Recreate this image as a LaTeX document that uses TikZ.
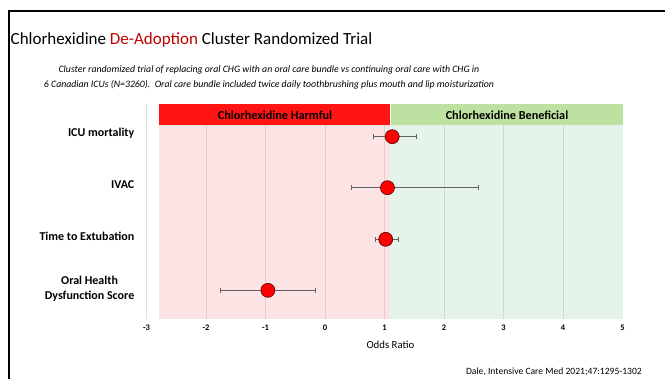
\documentclass[tikz,border=0pt]{standalone}
\usepackage{fontspec}
\setmainfont{Carlito}
\begin{document}
\definecolor{hdrred}{HTML}{FF1414}
\definecolor{hdrgreen}{HTML}{BDE1A0}
\definecolor{bgpink}{HTML}{FDE4E4}
\definecolor{bggreen}{HTML}{E4F4EA}
\definecolor{titlered}{HTML}{C00000}
\definecolor{barcol}{HTML}{626262}
\begin{tikzpicture}[x=1pt,y=-1pt,
  rowlabel/.style={anchor=base east,font=\fontsize{12}{14.3}\selectfont\bfseries,align=center,inner sep=0pt},
  ticklabel/.style={anchor=base,font=\fontsize{8.5}{10}\selectfont\bfseries,inner sep=0pt},
  hdrtext/.style={font=\fontsize{12.2}{14}\selectfont\bfseries,inner sep=0pt},
  gridline/.style={draw=black!35,opacity=0.35,line width=0.8pt},
  ciline/.style={draw=barcol,line width=1.5pt},
  whisker/.style={draw=barcol,line width=1pt},
  est/.style={circle,fill=red,draw=black!70!red,line width=0.6pt,minimum size=14pt,inner sep=0pt}]
\useasboundingbox (0,0) rectangle (665,379);
\fill[white] (0,0) rectangle (665,379);

% slide frame (top rule and left rule)
\fill[black] (7.8,9.8) rectangle (665,12.4);
\fill[black] (7.8,9.8) rectangle (10.2,379);

% title and description
\node[anchor=base west,inner sep=0pt,font=\fontsize{17}{20}\selectfont] (title) at (10.5,45)
  {Chlorhexidine \textcolor{titlered}{De-Adoption} Cluster Randomized Trial};
\node[anchor=base,inner sep=0pt,align=center,font=\fontsize{9.8}{14.5}\selectfont\itshape] (desc) at (269,87.5)
  {Cluster randomized trial of replacing oral CHG with an oral care bundle vs continuing oral care with CHG in\\
   6 Canadian ICUs (N=3260).\ \ Oral care bundle included twice daily toothbrushing plus mouth and lip moisturization};

% shaded regions and headers
\fill[bgpink] (159.3,125) rectangle (390,319);
\fill[bggreen] (390,125) rectangle (622.5,319);
\fill[hdrred] (159.3,104) rectangle (390,125);
\fill[hdrgreen] (391,104) rectangle (623,125);
\node[hdrtext] (harm) at (275,115) {Chlorhexidine Harmful};
\node[hdrtext] (ben) at (507,115) {Chlorhexidine Beneficial};

% vertical gridlines and tick labels
\foreach \v in {-3,-2,-1,0,1,2,3,4}{
  \draw[gridline] ({325+59.5*\v},125) -- ({325+59.5*\v},319);
}
\draw[gridline] (146.5,104) -- (146.5,125);
\foreach \v in {-3,-2,-1,0,1,2,3,4,5}{
  \node[ticklabel] (t\v) at ({325+59.5*\v},330.5) {\v};
}
\node[anchor=base,inner sep=0pt,font=\fontsize{10.8}{12}\selectfont] (xlab) at (390.5,348.5) {Odds Ratio};

% outcome labels
\node[rowlabel] (r1) at (134.5,137) {ICU mortality};
\node[rowlabel] (r2) at (134.5,189) {IVAC};
\node[rowlabel] (r3) at (134.5,240.7) {Time to Extubation};
\node[rowlabel] (r4) at (134.5,299.3) {Oral Health\\Dysfunction Score};

% estimates with confidence intervals: lower, point, upper
\foreach \n/\y/\lo/\pt/\hi in {1/136.7/0.81/1.13/1.54, 2/187.7/0.44/1.05/2.58,
                              3/239.3/0.85/1.02/1.23, 4/290.3/-1.75/-0.96/-0.16}{
  \coordinate (lo\n) at ({325+59.5*\lo},\y);
  \coordinate (hi\n) at ({325+59.5*\hi},\y);
  \draw[ciline] (lo\n) -- (hi\n);
  \draw[whisker] ([yshift=-2.3pt]lo\n) -- ([yshift=2.3pt]lo\n);
  \draw[whisker] ([yshift=-2.3pt]hi\n) -- ([yshift=2.3pt]hi\n);
  \node[est] (p\n) at ({325+59.5*\pt},\y) {};
}

% reference
\node[anchor=base east,inner sep=0pt,font=\fontsize{9.6}{11}\selectfont] (cite) at (642,375)
  {Dale, Intensive Care Med 2021;47:1295-1302};
\end{tikzpicture}
\end{document}
